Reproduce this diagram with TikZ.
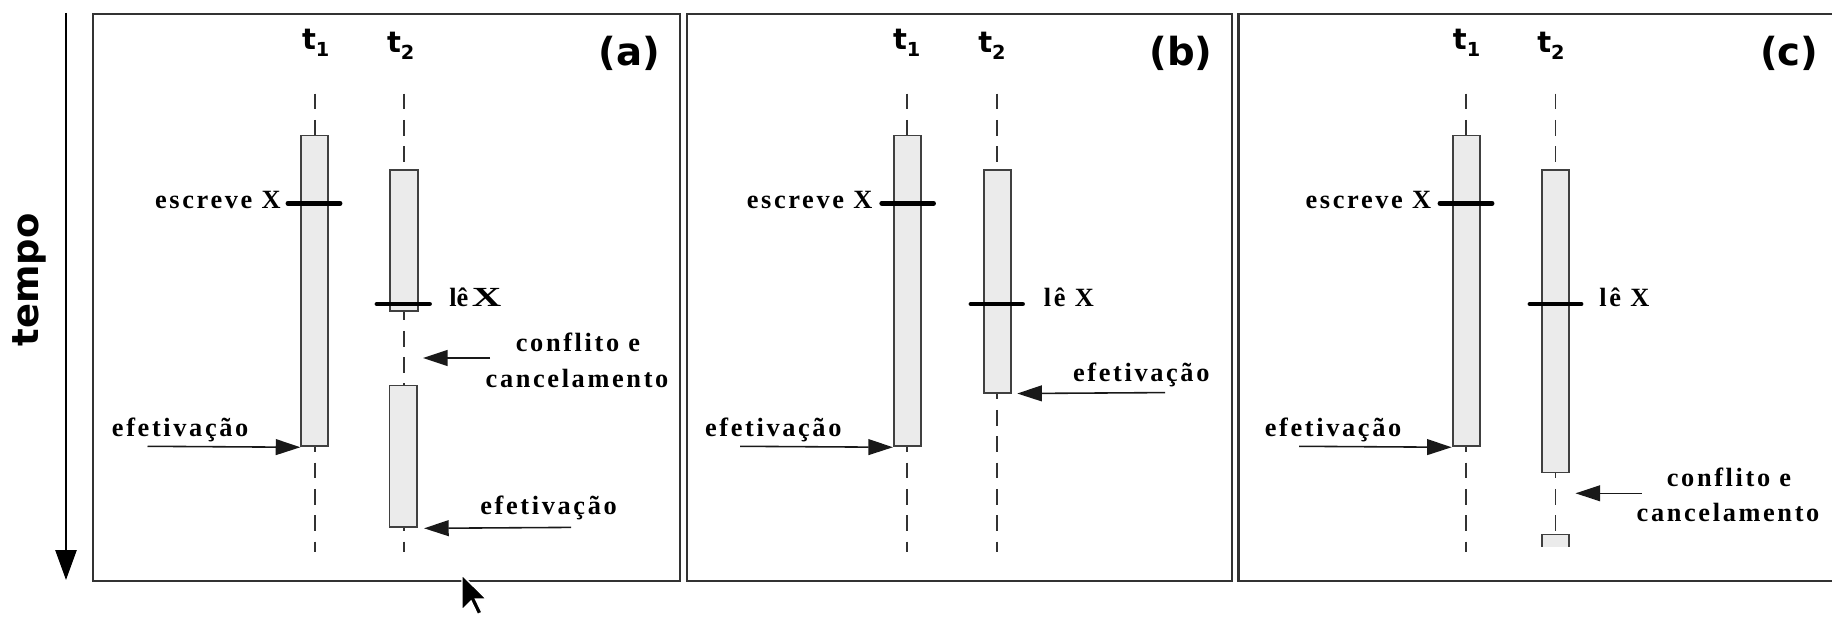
\documentclass[tikz,border=0pt]{standalone}
\usepackage{fontspec}
\setmainfont{Liberation Serif}
\newfontfamily\lblfont[LetterSpace=10]{Liberation Serif}
\newfontfamily\sansfont{DejaVu Sans}
\usetikzlibrary{arrows.meta,fit}
\newcommand{\tsubs}[1]{{\fontsize{11}{11}\selectfont\raisebox{-3.5pt}{#1}}}
\tikzset{
  panel/.style={draw=black!80, line width=1.3pt},
  lifeline/.style={draw=black!80, line width=1pt, dash pattern=on 9pt off 6pt},
  actbox/.style={draw=black!75, fill=black!8, line width=1.1pt, inner sep=0pt},
  opbar/.style={line width=2.8pt, line cap=round},
  arr/.style={draw=black!90, line width=0.9pt, -{Triangle[length=14pt,width=9pt]}},
  lbl/.style={font=\lblfont\bfseries\fontsize{15}{17}\selectfont, inner sep=0pt},
  tlbl/.style={font=\sansfont\bfseries\fontsize{16.5}{18}\selectfont, inner sep=0pt, anchor=base west},
  plbl/.style={font=\sansfont\bfseries\fontsize{22}{24}\selectfont, inner sep=0pt, anchor=base west},
}
\begin{document}
\begin{tikzpicture}[x=0.02cm,y=-0.02cm]
\useasboundingbox (0,0) rectangle (1832,617);

% time axis
\coordinate (tTop) at (66,13);
\coordinate (tBot) at (66,580);
\draw[line width=1.2pt, -{Triangle[length=17pt,width=12pt]}] (tTop) -- (tBot);
\node[font=\sansfont\bfseries\fontsize{21}{21}\selectfont, rotate=90, inner sep=0pt] (tempo) at (29,280) {tempo};

% ================= panel (a)
\draw[panel] (93,14) rectangle (680,581);
\node[tlbl] (a-t1) at (301.7,50) {t\tsubs{1}};
\node[tlbl] (a-t2) at (386.7,53) {t\tsubs{2}};
\node[plbl] (a-lab) at (598,66) {(a)};
\coordinate (a-l1s) at (314.7,93.6); \coordinate (a-l1e) at (314.7,552);
\coordinate (a-l2s) at (404,93.6);   \coordinate (a-l2e) at (404,552);
\draw[lifeline] (a-l1s) -- (a-l1e);
\draw[lifeline] (a-l2s) -- (a-l2e);
\coordinate (a-b1nw) at (301.3,135.5); \coordinate (a-b1se) at (328.1,446.3);
\node[actbox, fit=(a-b1nw)(a-b1se)] (a-B1) {};
\coordinate (a-b2nw) at (390.3,170); \coordinate (a-b2se) at (417.7,311);
\node[actbox, fit=(a-b2nw)(a-b2se)] (a-B2) {};
\coordinate (a-b3nw) at (389.5,385.5); \coordinate (a-b3se) at (417,527.4);
\node[actbox, fit=(a-b3nw)(a-b3se)] (a-B3) {};
\coordinate (a-w1) at (288,203.3); \coordinate (a-w2) at (340,203.3);
\draw[opbar] (a-w1) -- (a-w2);
\node[lbl, anchor=base east] (a-wtxt) at (281,209) {escreve X};
\coordinate (a-r1) at (377,304); \coordinate (a-r2) at (429.5,304);
\draw[opbar] (a-r1) -- (a-r2);
\node[lbl, anchor=base west] (a-rtxt) at (449,306.5) {{\addfontfeature{LetterSpace=0}lê}\hspace{2pt}\scalebox{1.55}[1.05]{X}};
\coordinate (a-ct) at (490,358); \coordinate (a-ch) at (423,358);
\draw[arr] (a-ct) -- (a-ch);
\node[lbl, anchor=base] (a-c1) at (578,351.5) {conflito e};
\node[lbl, anchor=base] (a-c2) at (577,387.5) {cancelamento};
\coordinate (a-e1t) at (147.5,446.3);
\draw[arr] (a-e1t) -- (a-B1.south west);
\node[lbl, anchor=base west] (a-e1txt) at (111.6,436.5) {efetivação};
\coordinate (a-e2t) at (571,527.4);
\draw[arr, shorten >=3.5pt] (a-e2t) -- (a-B3.south east);
\node[lbl, anchor=base west] (a-e2txt) at (480,515) {efetivação};
% mouse pointer
\draw[fill=black, draw=white, line width=0.8pt, line join=miter]
  (462,575) -- ++(0,35) -- ++(9,-9) -- ++(6.5,13.5) -- ++(4.5,-2) -- ++(-6.5,-13.5) -- ++(11,0) -- cycle;

% ================= panel (b)
\draw[panel] (687,14) rectangle (1232,581);
\node[tlbl] (b-t1) at (892.7,50) {t\tsubs{1}};
\node[tlbl] (b-t2) at (978,53) {t\tsubs{2}};
\node[plbl] (b-lab) at (1149,66) {(b)};
\coordinate (b-l1s) at (907.3,93.6); \coordinate (b-l1e) at (907.3,552);
\coordinate (b-l2s) at (997,93.6);   \coordinate (b-l2e) at (997,552);
\draw[lifeline] (b-l1s) -- (b-l1e);
\draw[lifeline] (b-l2s) -- (b-l2e);
\coordinate (b-b1nw) at (893.9,135.5); \coordinate (b-b1se) at (920.7,446.3);
\node[actbox, fit=(b-b1nw)(b-b1se)] (b-B1) {};
\coordinate (b-b2nw) at (983.6,170); \coordinate (b-b2se) at (1011,392.6);
\node[actbox, fit=(b-b2nw)(b-b2se)] (b-B2) {};
\coordinate (b-w1) at (881.8,203.3); \coordinate (b-w2) at (933.5,203.3);
\draw[opbar] (b-w1) -- (b-w2);
\node[lbl, anchor=base east] (b-wtxt) at (872.7,209) {escreve X};
\coordinate (b-r1) at (971,304); \coordinate (b-r2) at (1022.5,304);
\draw[opbar] (b-r1) -- (b-r2);
\node[lbl, anchor=base west] (b-rtxt) at (1043.6,307) {lê X};
\coordinate (b-e1t) at (740,446.3);
\draw[arr] (b-e1t) -- (b-B1.south west);
\node[lbl, anchor=base west] (b-e1txt) at (704.7,436.5) {efetivação};
\coordinate (b-e2t) at (1165,392.6);
\draw[arr, shorten >=3pt] (b-e2t) -- (b-B2.south east);
\node[lbl, anchor=base west] (b-e2txt) at (1072.7,381.6) {efetivação};

% ================= panel (c)
\draw[panel] (1834,14) -- (1238.5,14) -- (1238.5,581) -- (1834,581);
\node[tlbl] (c-t1) at (1452.6,50) {t\tsubs{1}};
\node[tlbl] (c-t2) at (1537,53) {t\tsubs{2}};
\node[plbl] (c-lab) at (1759.8,66) {(c)};
\coordinate (c-l1s) at (1466,93.6);   \coordinate (c-l1e) at (1466,552);
\coordinate (c-l2s) at (1555.5,93.6); \coordinate (c-l2e) at (1555.5,540);
\draw[lifeline] (c-l1s) -- (c-l1e);
\draw[lifeline] (c-l2s) -- (c-l2e);
\coordinate (c-b1nw) at (1452.6,135.5); \coordinate (c-b1se) at (1480.3,446.3);
\node[actbox, fit=(c-b1nw)(c-b1se)] (c-B1) {};
\coordinate (c-b2nw) at (1541.7,170); \coordinate (c-b2se) at (1569.3,472.5);
\node[actbox, fit=(c-b2nw)(c-b2se)] (c-B2) {};
\fill[black!8] (1541.7,534.5) rectangle (1569.3,547);
\draw[draw=black!75, line width=1.1pt] (1541.7,547) -- (1541.7,534.5) -- (1569.3,534.5) -- (1569.3,547);
\coordinate (c-w1) at (1440,203.3); \coordinate (c-w2) at (1492,203.3);
\draw[opbar] (c-w1) -- (c-w2);
\node[lbl, anchor=base east] (c-wtxt) at (1431.5,209) {escreve X};
\coordinate (c-r1) at (1530,304); \coordinate (c-r2) at (1581,304);
\draw[opbar] (c-r1) -- (c-r2);
\node[lbl, anchor=base west] (c-rtxt) at (1599,307) {lê X};
\coordinate (c-ct) at (1641.5,493.3); \coordinate (c-ch) at (1575.5,493.3);
\draw[arr] (c-ct) -- (c-ch);
\node[lbl, anchor=base] (c-c1) at (1729,487) {conflito e};
\node[lbl, anchor=base] (c-c2) at (1728,522) {cancelamento};
\coordinate (c-e1t) at (1299,446.3);
\draw[arr] (c-e1t) -- (c-B1.south west);
\node[lbl, anchor=base west] (c-e1txt) at (1264.5,436.5) {efetivação};
\end{tikzpicture}
\end{document}
